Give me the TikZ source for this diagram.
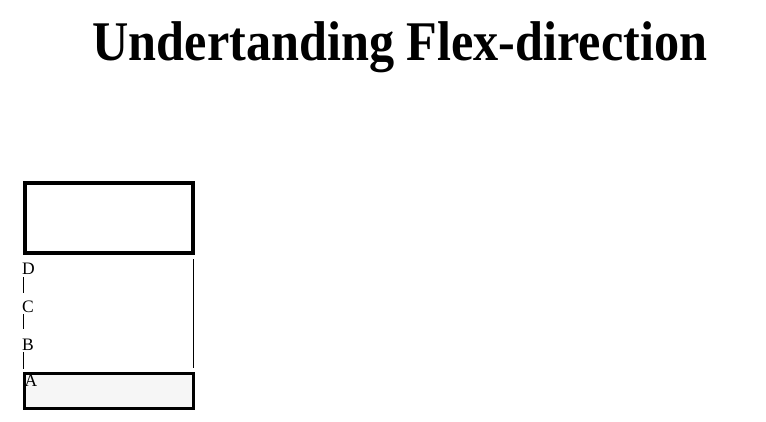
\documentclass[tikz,border=0pt]{standalone}
\usepackage{fontspec}
\setmainfont{Liberation Serif}
\usetikzlibrary{positioning}

\tikzset{
	flexbox/.style = {draw, black, line width = 3.5pt, inner sep = 0pt, outer sep = 0pt},
	itembox/.style = {draw, black, line width = 3pt, fill = gray!7, inner sep = 0pt, outer sep = 0pt},
	itemlabel/.style = {inner sep = 0pt, font = \fontsize{17.5}{20}\selectfont},
	edge/.style = {black, line width = 1pt}
}

\begin{document}
\begin{tikzpicture}[x = 1pt, y = -1pt]
	%	page
	\useasboundingbox (0, 0) rectangle (766, 421);
	
	%	title
	\node[anchor = base, inner sep = 0pt] (title) at (400, 60)
		{\scalebox{1.005}[1.12]{\fontsize{50}{60}\selectfont\bfseries Undertanding Flex-direction}};
	
	%	boxes
	\node[flexbox, minimum width = 168pt, minimum height = 70pt] (boxtop) at (109, 218) {};
	\node[itembox, minimum width = 169pt, minimum height = 35pt] (itemA) at (109, 391) {};
	
	%	items
	\node[itemlabel, anchor = base west] (labelD) at (22, 274) {D};
	\node[itemlabel, anchor = base west] (labelC) at (22, 312) {C};
	\node[itemlabel, anchor = base west] (labelB) at (22, 350) {B};
	\node[itemlabel, anchor = base west] (labelA) at (24.5, 386) {A};
	
	%	borders
	\coordinate (edgetop) at (193, 259);
	\coordinate (edgebot) at (193, 368);
	\draw[edge] (edgetop) -- (edgebot);
	\draw[edge] (labelD.south west) ++(1.5, 3) -- ++(0, 16);
	\draw[edge] (labelC.south west) ++(1.5, 2) -- ++(0, 15);
	\draw[edge] (labelB.south west) ++(1.5, 2) -- ++(0, 17);
\end{tikzpicture}
\end{document}
